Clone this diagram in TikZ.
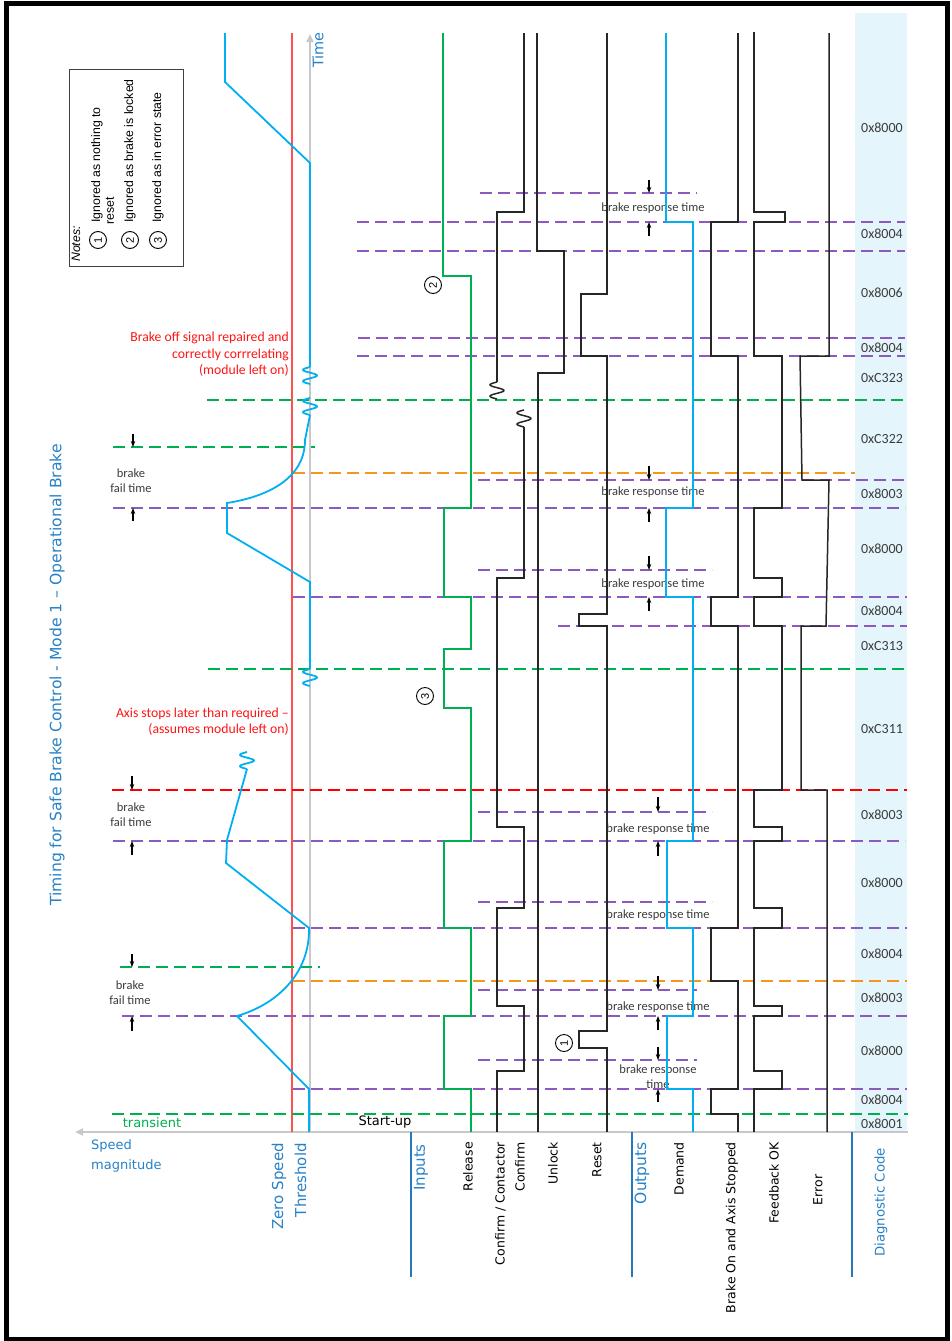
\documentclass[tikz,border=0pt]{standalone}
\usepackage{fontspec}
\setmainfont{Carlito}
\newfontfamily\dejavu{DejaVu Sans}
\newfontfamily\arialf{Liberation Sans}
\usetikzlibrary{arrows.meta}
\definecolor{sigblue}{RGB}{0,176,240}
\definecolor{lblblue}{RGB}{40,130,200}
\definecolor{sepblue}{RGB}{40,120,190}
\definecolor{dgreen}{RGB}{0,176,80}
\definecolor{dpurple}{RGB}{140,90,190}
\definecolor{dorange}{RGB}{245,150,30}
\definecolor{lred}{RGB}{255,80,80}
\definecolor{pred}{RGB}{255,20,20}
\definecolor{diagbg}{RGB}{228,245,252}
\definecolor{axisgrey}{RGB}{200,200,200}
\definecolor{txtgrey}{RGB}{60,60,60}
\newcommand{\mysquig}[3]{\draw[#1] plot[domain=0:17,samples=30,smooth] ({#2-7*sin(\x/17*540)},{#3+\x});}
\tikzset{
  sig/.style={line width=1.5pt, black!85},
  relsig/.style={line width=2pt, dgreen},
  dmd/.style={line width=1.8pt, sigblue},
  speed/.style={line width=1.8pt, sigblue},
  dline/.style={line width=1.6pt, dash pattern=on 12pt off 6pt},
  tickarrow/.style={-{Stealth[length=6pt,width=4.5pt]}, line width=1.1pt, black},
  code/.style={font=\fontsize{14}{16}\selectfont, text=txtgrey},
  note/.style={font=\fontsize{12.5}{15}\selectfont, text=txtgrey, align=center},
  redtxt/.style={font=\fontsize{13.7}{16.5}\selectfont, text=pred, align=right, anchor=east, inner sep=0pt},
  lbl/.style={rotate=90, anchor=east, inner sep=0pt, align=right, font=\dejavu\fontsize{12.5}{20}\selectfont},
  hdr/.style={rotate=90, anchor=east, inner sep=0pt, align=right, text=lblblue},
  circ/.style={circle, draw, line width=0.9pt, inner sep=0pt, minimum size=17pt, rotate=90, font=\arialf\fontsize{11}{11}\selectfont},
  notetxt/.style={rotate=90, anchor=west, inner sep=0pt, font=\arialf\fontsize{12.3}{13}\selectfont}
}
\begin{document}
\begin{tikzpicture}[x=1pt,y=-1pt]
\useasboundingbox (0,0) rectangle (951,1341);
\fill[white] (0,0) rectangle (951,1341);
% diagnostic column
\fill[diagbg] (855,13) rectangle (907,1132);
% frame
\draw[line width=5pt] (6,3.5) rectangle (947.5,1339);
% axes
\draw[line width=2pt, axisgrey, -{Triangle[length=8pt,width=7pt]}] (908,1132) -- (75,1132);
\draw[line width=2pt, axisgrey, -{Triangle[length=8pt,width=7pt]}] (310,1132) -- (310,34);
\draw[line width=2pt, lred] (292,33) -- (292,1132);
% dashed lines
\foreach \y/\a/\b in {193/480/697, 222/357/905, 251/357/905, 338/358/905, 356/357/905, 480/478/905, 508/113/905, 570/478/712, 597/293/907, 626/558/907, 812/478/712, 841/113/905, 902/478/712, 928/293/907, 990/478/697, 1016/122/907, 1060/478/697, 1089/293/907}
  \draw[dline, dpurple] (\a,\y) -- (\b,\y);
\foreach \y/\a/\b in {400/207/907, 447/113/315, 669/208/907, 967/120/320, 1114/112/908}
  \draw[dline, dgreen] (\a,\y) -- (\b,\y);
\foreach \y/\a/\b in {473/293/855, 981/293/907}
  \draw[dline, dorange] (\a,\y) -- (\b,\y);
\draw[dline, red] (112,790) -- (907,790);
% brake response / fail texts
\node[note] (br1) at (653,208) {brake response time};
\node[note] (br2) at (653,492) {brake response time};
\node[note] (br3) at (653,584) {brake response time};
\node[note] (br4) at (658,829) {brake response time};
\node[note] (br5) at (658,915) {brake response time};
\node[note] (br6) at (658,1007) {brake response time};
\node[note] (br7) at (658,1077) {brake response\\time};
\node[note] (bf1) at (131,481) {brake\\fail time};
\node[note] (bf2) at (131,815) {brake\\fail time};
\node[note] (bf3) at (130,993) {brake\\fail time};
% arrows
\foreach \x/\ya/\yb in {133/434/447, 133/521/508, 132/776/790, 132/855/841, 132/954/967, 132/1031/1016,
  649/180/193, 649/236/222, 649/466/480, 649/522/508, 649/556/570, 649/611/597,
  658/797/812, 658/856/841, 658/976/990, 658/1030/1016, 658/1047/1060, 658/1102/1089}
  \draw[tickarrow] (\x,\ya) -- (\x,\yb);
% Release
\draw[relsig] (443,33)--(443,276)--(471,276)--(471,508)--(444,508)--(444,597)--(471,597)--(471,649)--(444,649)--(444,708)--(471,708)--(471,841)--(444,841)--(444,928)--(471,928)--(471,1016)--(444,1016)--(444,1089)--(471,1089)--(471,1132);
% Confirm / Contactor Confirm
\draw[sig] (524,33)--(524,212)--(497,212)--(497,382);
\mysquig{sig}{497}{382}
\mysquig{sig}{524}{410}
\draw[sig] (524,427)--(524,578)--(497,578)--(497,827)--(524,827)--(524,908)--(497,908)--(497,1006)--(524,1006)--(524,1071)--(497,1071)--(497,1132);
% Unlock
\draw[sig] (537,33)--(537,251)--(564,251)--(564,373)--(538,373)--(538,1132);
% Reset
\draw[sig] (607,33)--(607,294)--(581,294)--(581,356)--(607,356)--(607,614)--(579,614)--(579,626)--(607,626)--(607,1031)--(579,1031)--(579,1048)--(607,1048)--(607,1132);
% Demand
\draw[dmd] (666,33)--(666,222)--(693,222)--(693,508)--(666,508)--(666,597)--(693,597)--(693,841)--(667,841)--(667,928)--(693,928)--(693,1016)--(667,1016)--(667,1089)--(693,1089)--(693,1132);
% Brake On and Axis Stopped
\draw[sig] (738,33)--(738,222)--(711,222)--(711,356)--(738,356)--(738,597)--(711,597)--(711,626)--(738,626)--(738,928)--(711,928)--(711,981)--(738,981)--(738,1089)--(711,1089)--(711,1114)--(738,1114)--(738,1132);
% Feedback OK
\draw[sig] (754,32)--(754,212)--(785,212)--(785,222)--(754,222)--(754,356)--(782,356)--(782,508)--(754,508)--(754,578)--(782,578)--(782,597)--(754,597)--(754,626)--(782,626)--(782,790)--(754,790)--(754,827)--(782,827)--(782,841)--(754,841)--(754,908)--(782,908)--(782,928)--(754,928)--(754,1006)--(782,1006)--(782,1016)--(754,1016)--(754,1071)--(782,1071)--(782,1089)--(754,1089)--(754,1132);
% Error
\draw[sig] (829,33)--(829,356)--(800,356)--(802,480)--(829,480)--(826,626)--(801,626)--(801,790)--(827,790)--(827,1132);
% speed magnitude curve
\draw[speed] (225,33)--(225,82)--(310,163)--(310,367);
\mysquig{speed}{310}{367}
\mysquig{speed}{310}{398}
\draw[speed] (310,415)--(305,440) .. controls (305,480) and (265,497) .. (227,503) -- (227,533) -- (310,582) -- (310,669);
\mysquig{speed}{310}{669}
\mysquig{speed}{247}{752}
\draw[speed] (247,769)--(227,840)--(226,863)--(309,928) .. controls (310,975) and (275,1005) .. (237,1016) -- (309,1089) -- (309,1132);
% diagnostic codes
\foreach \y/\t in {128/0x8000, 234/0x8004, 293/0x8006, 348/0x8004, 378/0xC323, 439/0xC322, 494/0x8003, 549/0x8000, 611/0x8004, 646/0xC313, 729/0xC311, 815/0x8003, 883/0x8000, 954/0x8004, 998/0x8003, 1051/0x8000, 1100/0x8004, 1124/0x8001}
  \node[code] at (882,\y) {\t};
% red notes
\node[redtxt] (rn1) at (289,354.5) {Brake off signal repaired and\\correctly corrrelating\\(module left on)};
\node[redtxt] (rn2) at (289,721.5) {Axis stops later than required –\\(assumes module left on)};
% circled marks
\node[circ] (c2) at (433,285) {2};
\node[circ] (c3) at (425,696) {3};
\node[circ] (c1) at (564,1043) {1};
% notes box
\draw[line width=1pt, black!75] (69,69) rectangle (183,266);
\node[notetxt, font=\arialf\itshape\fontsize{12.3}{13}\selectfont] (nt) at (76,262) {Notes:};
\node[circ] (n1) at (98,240) {1};
\node[notetxt] (n1t) at (97,223) {Ignored as nothing to};
\node[notetxt] (n1r) at (110,225) {reset};
\node[circ] (n2) at (130,240) {2};
\node[notetxt] (n2t) at (130,223) {Ignored as brake is locked};
\node[circ] (n3) at (158,240) {3};
\node[notetxt] (n3t) at (158,223) {Ignored as in error state};
% title and axis labels
\node[rotate=90, text=lblblue, font=\dejavu\fontsize{15.6}{18}\selectfont] (title) at (57,675) {Timing for Safe Brake Control - Mode 1 – Operational Brake};
\node[rotate=90, text=lblblue, font=\dejavu\fontsize{14.5}{16}\selectfont] (time) at (318,50) {Time};
\node[anchor=north west, inner sep=0pt, align=left, text=lblblue, font=\dejavu\fontsize{13}{20}\selectfont] (spd) at (91,1139) {Speed\\magnitude};
\node[text=dgreen, font=\dejavu\fontsize{13}{15}\selectfont] (tr) at (152,1123) {transient};
\node[font=\dejavu\fontsize{13}{15}\selectfont] (su) at (385,1122) {Start-up};
% separators
\draw[line width=2pt, sepblue] (411,1132) -- (411,1277);
\draw[line width=2pt, sepblue] (632,1132) -- (632,1277);
\draw[line width=2pt, sepblue] (852,1132) -- (852,1277);
% column labels
\node[hdr, font=\dejavu\fontsize{15}{23}\selectfont] (zst) at (289,1143) {Zero Speed\\Threshold};
\node[hdr, font=\dejavu\fontsize{15}{18}\selectfont] (inp) at (421,1144) {Inputs};
\node[lbl] (rel) at (468,1142) {Release};
\node[lbl] (cfm) at (510,1142) {Confirm / Contactor\\Confirm};
\node[lbl] (unl) at (553,1142) {Unlock};
\node[lbl] (rst) at (597,1142) {Reset};
\node[hdr, font=\dejavu\fontsize{15.5}{18}\selectfont] (outp) at (642,1142) {Outputs};
\node[lbl] (dem) at (679,1142) {Demand};
\node[lbl] (bon) at (732,1142) {Brake On and Axis Stopped};
\node[lbl] (fok) at (774,1142) {Feedback OK};
\node[rotate=90, inner sep=0pt, font=\dejavu\fontsize{12.5}{15}\selectfont] (err) at (818,1190) {Error};
\node[hdr, font=\dejavu\fontsize{13.3}{16}\selectfont] (dcode) at (881,1148) {Diagnostic Code};
\end{tikzpicture}
\end{document}
